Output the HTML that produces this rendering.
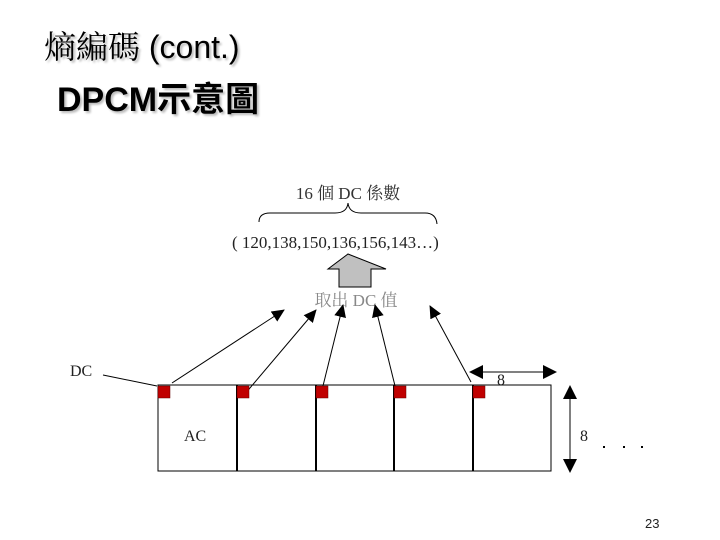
<!DOCTYPE html>
<html><head><meta charset="utf-8"><style>
body{margin:0;width:720px;height:540px;background:#fff;overflow:hidden;position:relative}
.t{position:absolute;white-space:nowrap}
</style></head><body>
<div class="t" style="left:44px;top:22px;font-size:32px;font-family:'Liberation Sans','Noto Serif CJK SC',sans-serif;text-shadow:2px 2px 2px #bbb">熵編碼 (cont.)</div>
<div class="t" style="left:57px;top:72px;font-size:34px;font-weight:bold;font-family:'Liberation Sans','Noto Sans CJK TC',sans-serif;text-shadow:2px 2px 2px #bbb">DPCM示意圖</div>
<svg width="720" height="540" style="position:absolute;left:0;top:0" font-family="'Liberation Serif','Noto Serif CJK TC',serif">
<defs><marker id="a" markerWidth="13" markerHeight="12" refX="12" refY="6" orient="auto" markerUnits="userSpaceOnUse" viewBox="0 0 13 12"><path d="M0,0L13,6L0,12z" fill="#000"/></marker>
<marker id="b" markerWidth="14" markerHeight="14" refX="13" refY="7" orient="auto" markerUnits="userSpaceOnUse" viewBox="0 0 14 14"><path d="M0,0L14,7L0,14z" fill="#000"/></marker></defs>
<text x="348" y="199" font-size="17" text-anchor="middle" fill="#333">16 個 DC 係數</text>
<path d="M259,222 Q259,213 270,213 L335,213 Q347,213 348,203 Q349,213 361,213 L425,213 Q436,213 437,224" fill="none" stroke="#000" stroke-width="1"/>
<text x="232" y="248" font-size="17" fill="#222">( 120,138,150,136,156,143…)</text>
<path d="M348,254 L386,269 L371,269 L371,287 L339,287 L339,269 L328,269 Z" fill="#c0c0c0" stroke="#000" stroke-width="1"/>
<text x="356" y="306" font-size="17" text-anchor="middle" fill="#888">取出 DC 值</text>
<text x="70" y="376" font-size="16" fill="#222">DC</text>
<line x1="103" y1="375" x2="157" y2="386" stroke="#000"/>
<g stroke="#000" stroke-width="1">
<line x1="172" y1="383" x2="284" y2="310" marker-end="url(#a)"/>
<line x1="244" y1="395" x2="316" y2="310" marker-end="url(#a)"/>
<line x1="320" y1="398" x2="343" y2="305" marker-end="url(#a)"/>
<line x1="398" y1="398" x2="375" y2="305" marker-end="url(#a)"/>
<line x1="471" y1="382" x2="430" y2="306" marker-end="url(#a)"/>
</g>
<rect x="158" y="385" width="393" height="86" fill="none" stroke="#000"/>
<g stroke="#000" stroke-width="2"><line x1="237" y1="385" x2="237" y2="471"/><line x1="316" y1="385" x2="316" y2="471"/><line x1="394" y1="385" x2="394" y2="471"/><line x1="473" y1="385" x2="473" y2="471"/></g>
<g fill="#c00000" stroke="#600" stroke-width="0.5"><rect x="158" y="386" width="12" height="12"/><rect x="237" y="386" width="12" height="12"/><rect x="316" y="386" width="12" height="12"/><rect x="394" y="386" width="12" height="12"/><rect x="473" y="386" width="12" height="12"/></g>
<text x="184" y="441" font-size="16" fill="#222">AC</text>
<line x1="490" y1="372" x2="470" y2="372" stroke="#000" marker-end="url(#b)"/>
<line x1="480" y1="372" x2="556" y2="372" stroke="#000" marker-end="url(#b)"/>
<text x="497" y="385" font-size="16" fill="#222">8</text>
<line x1="570" y1="420" x2="570" y2="386" stroke="#000" marker-end="url(#b)"/>
<line x1="570" y1="400" x2="570" y2="472" stroke="#000" marker-end="url(#b)"/>
<text x="580" y="441" font-size="16" fill="#222">8</text>
<g fill="#000"><rect x="603" y="446" width="2" height="2"/><rect x="623" y="446" width="2" height="2"/><rect x="641" y="446" width="2" height="2"/></g>
<text x="645" y="528" font-size="13" font-family="'Liberation Sans',sans-serif" fill="#222">23</text>
</svg>
</body></html>
